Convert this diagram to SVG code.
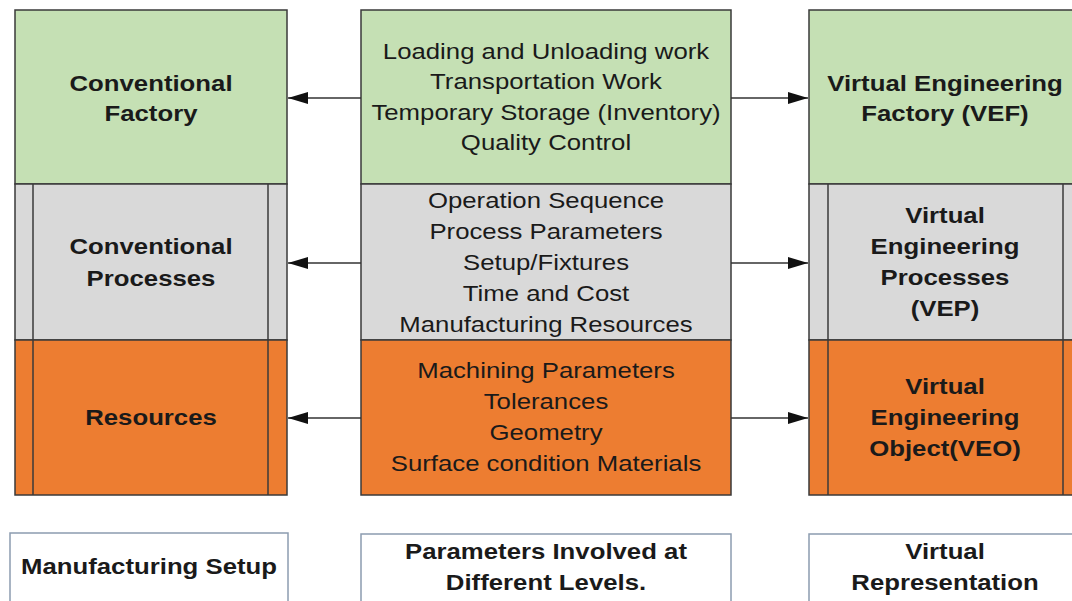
<svg xmlns="http://www.w3.org/2000/svg" width="1072" height="601" viewBox="0 0 1072 601">
<defs>
<style>
.box{stroke:#3a3a3a;stroke-width:1.5}
.green{fill:#c5e0b4}
.gray{fill:#d9d9d9}
.orange{fill:#ed7d31}
.inner{stroke:#3a3a3a;stroke-width:1.5;fill:none}
.label{fill:#fff;stroke:#8c9cb0;stroke-width:1.5}
.t{font-family:"Liberation Sans",Arial,sans-serif;font-size:23px;fill:#1a1a1a;text-anchor:middle}
.b{font-weight:bold}
.conn{stroke:#333;stroke-width:1.5;fill:none}
</style>
<marker id="ah" viewBox="0 0 20 12" refX="20" refY="6" markerWidth="20" markerHeight="12" markerUnits="userSpaceOnUse" orient="auto">
<path d="M0,0 L20,6 L0,12 Z" fill="#111"/>
</marker>
</defs>
<rect width="1072" height="601" fill="#fff"/>

<g id="left-factory">
<rect class="box green" x="15" y="10" width="272" height="174"/>
<text class="t b" transform="translate(151,0) scale(1.12,1)"><tspan x="0" y="91">Conventional</tspan><tspan x="0" y="121">Factory</tspan></text>
</g>
<g id="left-processes">
<rect class="box gray" x="15" y="184" width="272" height="156"/>
<line class="inner" x1="33" y1="184" x2="33" y2="340"/>
<line class="inner" x1="268" y1="184" x2="268" y2="340"/>
<text class="t b" transform="translate(151,0) scale(1.12,1)"><tspan x="0" y="254">Conventional</tspan><tspan x="0" y="286">Processes</tspan></text>
</g>
<g id="left-resources">
<rect class="box orange" x="15" y="340" width="272" height="155"/>
<line class="inner" x1="33" y1="340" x2="33" y2="495"/>
<line class="inner" x1="268" y1="340" x2="268" y2="495"/>
<text class="t b" transform="translate(151,0) scale(1.12,1)"><tspan x="0" y="425">Resources</tspan></text>
</g>

<g id="mid-factory">
<rect class="box green" x="361" y="10" width="370" height="174"/>
<text class="t" transform="translate(546,0) scale(1.12,1)"><tspan x="0" y="59">Loading and Unloading work</tspan><tspan x="0" y="89.5">Transportation Work</tspan><tspan x="0" y="120">Temporary Storage (Inventory)</tspan><tspan x="0" y="150.5">Quality Control</tspan></text>
</g>
<g id="mid-processes">
<rect class="box gray" x="361" y="184" width="370" height="156"/>
<text class="t" transform="translate(546,0) scale(1.12,1)"><tspan x="0" y="208">Operation Sequence</tspan><tspan x="0" y="239">Process Parameters</tspan><tspan x="0" y="270">Setup/Fixtures</tspan><tspan x="0" y="301">Time and Cost</tspan><tspan x="0" y="332">Manufacturing Resources</tspan></text>
</g>
<g id="mid-resources">
<rect class="box orange" x="361" y="340" width="370" height="155"/>
<text class="t" transform="translate(546,0) scale(1.12,1)"><tspan x="0" y="378">Machining Parameters</tspan><tspan x="0" y="409">Tolerances</tspan><tspan x="0" y="440">Geometry</tspan><tspan x="0" y="471">Surface condition Materials</tspan></text>
</g>

<g id="right-factory">
<rect class="box green" x="809" y="10" width="272" height="174"/>
<text class="t b" transform="translate(945,0) scale(1.12,1)"><tspan x="0" y="91">Virtual Engineering</tspan><tspan x="0" y="121">Factory (VEF)</tspan></text>
</g>
<g id="right-processes">
<rect class="box gray" x="809" y="184" width="272" height="156"/>
<line class="inner" x1="828" y1="184" x2="828" y2="340"/>
<line class="inner" x1="1063" y1="184" x2="1063" y2="340"/>
<text class="t b" transform="translate(945,0) scale(1.12,1)"><tspan x="0" y="223">Virtual</tspan><tspan x="0" y="254">Engineering</tspan><tspan x="0" y="285">Processes</tspan><tspan x="0" y="316">(VEP)</tspan></text>
</g>
<g id="right-resources">
<rect class="box orange" x="809" y="340" width="272" height="155"/>
<line class="inner" x1="828" y1="340" x2="828" y2="495"/>
<line class="inner" x1="1063" y1="340" x2="1063" y2="495"/>
<text class="t b" transform="translate(945,0) scale(1.12,1)"><tspan x="0" y="394">Virtual</tspan><tspan x="0" y="425">Engineering</tspan><tspan x="0" y="456">Object(VEO)</tspan></text>
</g>

<g id="label-left">
<rect class="label" x="10" y="533" width="278" height="80"/>
<text class="t b" transform="translate(149,0) scale(1.12,1)"><tspan x="0" y="574">Manufacturing Setup</tspan></text>
</g>
<g id="label-mid">
<rect class="label" x="361" y="534" width="370" height="80"/>
<text class="t b" transform="translate(546,0) scale(1.12,1)"><tspan x="0" y="559">Parameters Involved at</tspan><tspan x="0" y="590">Different Levels.</tspan></text>
</g>
<g id="label-right">
<rect class="label" x="809" y="534" width="272" height="80"/>
<text class="t b" transform="translate(945,0) scale(1.12,1)"><tspan x="0" y="559">Virtual</tspan><tspan x="0" y="590">Representation</tspan></text>
</g>

<g id="connectors">
<line class="conn" x1="361" y1="98" x2="288" y2="98" marker-end="url(#ah)"/>
<line class="conn" x1="361" y1="263" x2="288" y2="263" marker-end="url(#ah)"/>
<line class="conn" x1="361" y1="418" x2="288" y2="418" marker-end="url(#ah)"/>
<line class="conn" x1="731" y1="98" x2="808" y2="98" marker-end="url(#ah)"/>
<line class="conn" x1="731" y1="263" x2="808" y2="263" marker-end="url(#ah)"/>
<line class="conn" x1="731" y1="418" x2="808" y2="418" marker-end="url(#ah)"/>
</g>
</svg>
